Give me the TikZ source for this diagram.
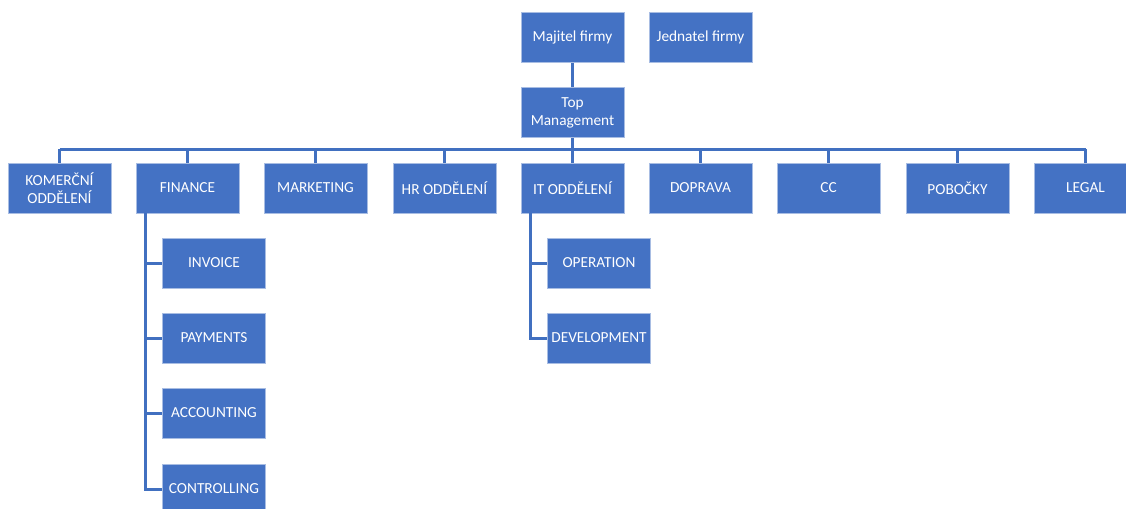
\documentclass[tikz,border=0pt]{standalone}
\usepackage{fontspec}
\setmainfont{Carlito}
\definecolor{boxblue}{HTML}{4472C4}
\definecolor{boxedge}{HTML}{A8BDE3}
\definecolor{lineblue}{HTML}{4170C0}
\begin{document}
\begin{tikzpicture}[x=0.75pt,y=-0.75pt,
  box/.style={rectangle, draw=boxedge, line width=0.5pt, fill=boxblue, text=white,
    minimum width=77.25pt, minimum height=37.5pt, inner sep=1pt, align=center,
    font=\fontsize{11.5}{13.5}\selectfont},
  conn/.style={draw=lineblue, line width=2.25pt}]
\useasboundingbox (0,0) rectangle (1126,508);

% Vedeni
\node[box] (owner) at (572.5,37.5) {Majitel firmy};
\node[box] (exec) at (700.5,37.5) {Jednatel firmy};
\node[box] (top) at (572.5,112.5) {Top\\Management};

% Oddeleni
\node[box] (kom) at (59.5,188) {KOMERČNÍ\\ODDĚLENÍ};
\node[box] (fin) at (187.5,188) {FINANCE};
\node[box] (mkt) at (315.5,188) {MARKETING};
\node[box] (hr) at (444.5,188) {HR ODDĚLENÍ};
\node[box] (it) at (572.5,188) {IT ODDĚLENÍ};
\node[box] (dop) at (700.5,188) {DOPRAVA};
\node[box] (cc) at (828.5,188) {CC};
\node[box] (pob) at (957.5,188) {POBOČKY};
\node[box] (legal) at (1085.5,188) {LEGAL};

% Finance
\node[box] (inv) at (214,263) {INVOICE};
\node[box] (pay) at (214,338) {PAYMENTS};
\node[box] (acc) at (214,413) {ACCOUNTING};
\node[box] (ctrl) at (214,489) {CONTROLLING};

% IT
\node[box] (oper) at (599,263) {OPERATION};
\node[box] (dev) at (599,338) {DEVELOPMENT};

\coordinate (bus) at (572.5,149);
\coordinate (finbar) at (145,213);
\coordinate (itbar) at (530,213);

% Spojnice nahore
\draw[conn] (owner) -- (top);
\draw[conn] (top) -- (bus);
\draw[conn] (kom.north |- bus) -- (legal.north |- bus);
\draw[conn] (kom.north |- bus) -- (kom.north);
\draw[conn] (fin.north |- bus) -- (fin.north);
\draw[conn] (mkt.north |- bus) -- (mkt.north);
\draw[conn] (hr.north |- bus) -- (hr.north);
\draw[conn] (it.north |- bus) -- (it.north);
\draw[conn] (dop.north |- bus) -- (dop.north);
\draw[conn] (cc.north |- bus) -- (cc.north);
\draw[conn] (pob.north |- bus) -- (pob.north);
\draw[conn] (legal.north |- bus) -- (legal.north);

% Spojnice finance
\draw[conn] (finbar) |- (ctrl.west);
\draw[conn] (finbar |- inv.west) -- (inv.west);
\draw[conn] (finbar |- pay.west) -- (pay.west);
\draw[conn] (finbar |- acc.west) -- (acc.west);

% Spojnice IT
\draw[conn] (itbar) |- (dev.west);
\draw[conn] (itbar |- oper.west) -- (oper.west);

\end{tikzpicture}
\end{document}
